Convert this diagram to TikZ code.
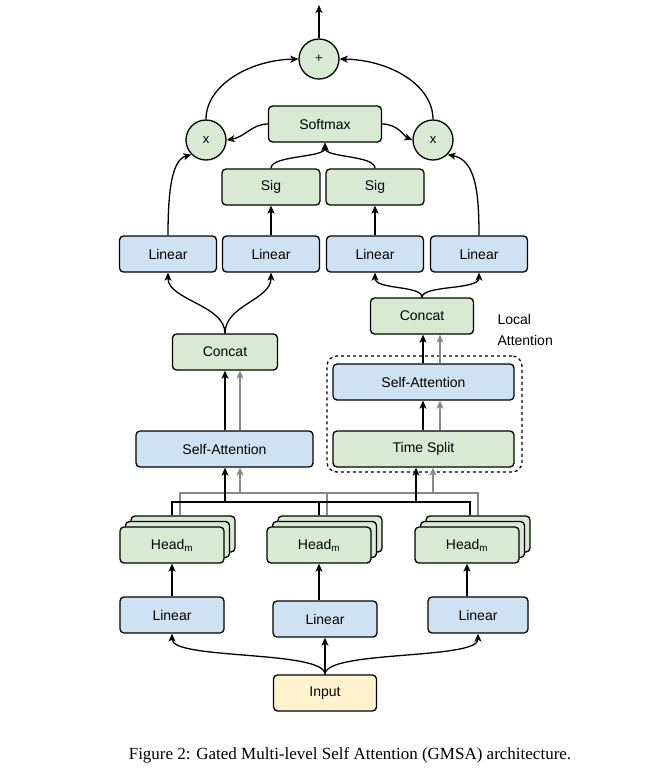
\documentclass[tikz,border=0pt]{standalone}
\usepackage{fontspec}
\setmainfont{Liberation Sans}
\newfontfamily\capfont{Liberation Serif}
\usetikzlibrary{arrows.meta}
\definecolor{bfill}{HTML}{CFE2F3}
\definecolor{gfill}{HTML}{D9EAD3}
\definecolor{yfill}{HTML}{FFF2CC}
\definecolor{gline}{HTML}{888888}
\begin{document}
\begin{tikzpicture}[x=1pt,y=-1pt,
  box/.style={draw,line width=1.3pt,rounded corners=4pt,minimum height=36pt,inner sep=0pt,font=\fontsize{14}{16}\selectfont},
  blue/.style={box,fill=bfill},
  green/.style={box,fill=gfill},
  circ/.style={draw,circle,line width=1.3pt,fill=gfill,minimum size=40pt,inner sep=0pt,font=\fontsize{13}{15}\selectfont},
  ar/.style={line width=1.3pt,-{Stealth[length=8pt,width=7pt,inset=2pt]}},
  ln/.style={line width=1.3pt},
  gar/.style={ar,draw=gline},
  gln/.style={ln,draw=gline}]
\useasboundingbox (0,0) rectangle (670,777);
% top part
\node[circ] (plus) at (319,59) {+};
\coordinate (out) at (319,5);
\node[circ] (x1) at (206,140) {x};
\node[circ] (x2) at (433,140) {x};
\node[green,minimum width=113pt] (soft) at (325,124) {Softmax};
\node[green,minimum width=98pt] (sig1) at (271,187) {Sig};
\node[green,minimum width=98pt] (sig2) at (375,187) {Sig};
\node[blue,minimum width=97pt] (l1) at (168,254) {Linear};
\node[blue,minimum width=97pt] (l2) at (271,254) {Linear};
\node[blue,minimum width=97pt] (l3) at (375,254) {Linear};
\node[blue,minimum width=97pt] (l4) at (479,254) {Linear};
\node[green,minimum width=105pt] (cL) at (225,352) {Concat};
\node[green,minimum width=103pt] (cR) at (422,316) {Concat};
\node[align=left,anchor=north west,font=\fontsize{14}{21}\selectfont] (loc) at (494,311) {Local\\Attention};
\node[draw,dashed,line width=1.3pt,rounded corners=10pt,minimum width=195pt,minimum height=116pt] (dash) at (424.5,414) {};
\node[blue,minimum width=181pt] (saR) at (423.5,382) {Self-Attention};
\node[green,minimum width=181pt] (ts) at (423.5,449) {Time Split};
\node[blue,minimum width=177pt] (saL) at (224.5,449) {Self-Attention};
% heads
\foreach \n/\x in {hL/172,hM/319,hR/467}{
  \node[green,minimum width=104pt] (\n3) at (\x+11,534) {};
  \node[green,minimum width=104pt] (\n2) at (\x+5.5,539.5) {};
  \node[green,minimum width=104pt] (\n) at (\x,545) {Head\textsubscript{m}};
}
\node[blue,minimum width=104pt] (b1) at (172,615) {Linear};
\node[blue,minimum width=104pt] (b2) at (325,619) {Linear};
\node[blue,minimum width=100pt] (b3) at (478,615) {Linear};
\node[box,fill=yfill,minimum width=103pt] (inp) at (325,693) {Input};
\node[font=\capfont\fontsize{17}{20}\selectfont] (cap) at (350,755) {Figure 2: Gated Multi-level Self Attention (GMSA) architecture.};
% input to linears
\draw[ar] (inp.north) .. controls (325,650) and (172,660) .. (b1.south);
\draw[ar] (inp.north) -- (b2.south);
\draw[ar] (inp.north) .. controls (325,650) and (478,660) .. (b3.south);
\draw[ar] (b1.north) -- (hL.south);
\draw[ar] (b2.north -| hM) -- (hM.south);
\draw[ar] (b3.north -| hR) -- (hR.south);
% buses
\coordinate (gb1) at (180,493); \coordinate (gb2) at (478,493);
\coordinate (bb1) at (172,502); \coordinate (bb2) at (470,502);
\draw[gln] (hL3.north -| 180,0) -- (gb1) -- (gb2) -- (hR3.north -| 478,0);
\draw[gln] (hM3.north -| 327,0) -- (327,493);
\draw[ln] (hL3.north -| 172,0) -- (bb1) -- (bb2) -- (hR3.north -| 470,0);
\draw[ln] (hM3.north -| 319,0) -- (319,502);
\draw[gar] (240,493) -- (saL.south -| 240,0);
\draw[ar] (225,502) -- (saL.south -| 225,0);
\draw[gar] (433,493) -- (ts.south -| 433,0);
\draw[ar] (416,502) -- (ts.south -| 416,0);
% left branch
\draw[ar] (saL.north -| 225,0) -- (cL.south -| 225,0);
\draw[gar] (saL.north -| 240,0) -- (cL.south -| 240,0);
\draw[ar] (ts.north -| 423,0) -- (saR.south -| 423,0);
\draw[gar] (ts.north -| 440,0) -- (saR.south -| 440,0);
\draw[ar] (saR.north -| 423,0) -- (cR.south -| 423,0);
\draw[gar] (saR.north -| 440,0) -- (cR.south -| 440,0);
% concats to linears
\draw[ar] (cL.north) .. controls (225,305) and (168,300) .. (l1.south);
\draw[ar] (cL.north) .. controls (225,305) and (271,300) .. (l2.south);
\draw[ar] (cR.north) .. controls (422,285) and (375,290) .. (l3.south);
\draw[ar] (cR.north) .. controls (422,285) and (479,290) .. (l4.south);
% upper
\draw[ar] (l2.north) -- (sig1.south);
\draw[ar] (l3.north) -- (sig2.south);
\draw[ar] (sig1.north) .. controls (271,155) and (325,158) .. (soft.south);
\draw[ar] (sig2.north) .. controls (375,155) and (325,158) .. (soft.south);
\draw[ar] (soft.west) .. controls (252,124) and (245,137) .. (x1.east);
\draw[ar] (soft.east) .. controls (398,124) and (405,137) .. (x2.west);
\draw[ar] (l1.north) .. controls (168,190) and (172,160) .. (x1.225);
\draw[ar] (l4.north) .. controls (479,190) and (475,160) .. (x2.-45);
\draw[ar] (x1.north) .. controls (206,85) and (250,60) .. (plus.west);
\draw[ar] (x2.north) .. controls (433,85) and (390,60) .. (plus.east);
\draw[ar] (plus.north) -- (out);
\end{tikzpicture}
\end{document}
